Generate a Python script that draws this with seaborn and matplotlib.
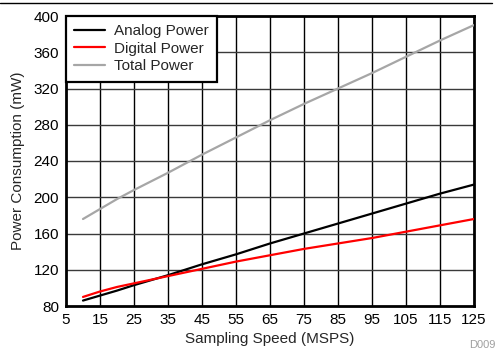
import matplotlib
matplotlib.use("Agg")
import matplotlib.pyplot as plt
import seaborn as sns
import pandas as pd
from matplotlib.lines import Line2D

speed = [10, 15, 20, 25, 35, 45, 55, 65, 75, 85, 95, 105, 115, 125]
analog = [86, 91.5, 97, 103, 114, 126, 137, 149, 160, 171, 182, 193, 204, 214]
digital = [90, 96, 101, 105, 113, 121, 129, 136, 143, 149, 155, 162, 169, 176]
total = [176, 187, 198, 208, 227, 247, 266, 285, 303, 320, 337, 355, 373, 390]
series_names = ["Analog Power", "Digital Power", "Total Power"]
colors = ["#000000", "#ff0000", "#a6a6a6"]
xticks = list(range(5, 126, 10))
yticks = list(range(80, 401, 40))

sns.set_style("white")
plt.rcParams["font.family"] = ["Liberation Sans", "DejaVu Sans"]

df = pd.DataFrame({
    "speed": speed * 3,
    "power": analog + digital + total,
    "series": [series_names[0]] * len(speed) + [series_names[1]] * len(speed) + [series_names[2]] * len(speed),
})

fs = 11
fig = plt.figure(figsize=(4.97, 3.53), dpi=100)
ax = fig.add_axes([66 / 497, 1 - 306 / 353, (474 - 66) / 497, (306 - 16) / 353])

sns.lineplot(data=df, x="speed", y="power", hue="series", palette=dict(zip(series_names, colors)),
             linewidth=1.6, ax=ax, legend=False, zorder=3)

ax.set_xlim(5, 125)
ax.set_ylim(80, 400)
ax.set_xticks(xticks)
ax.set_yticks(yticks)
ax.tick_params(axis="both", labelsize=fs, length=0, pad=5, colors="black")
for x in xticks[1:-1]:
    ax.axvline(x, color="black", lw=1.0, zorder=1)
for y in yticks[1:-1]:
    ax.axhline(y, color="#3a3a3a", lw=1.0, zorder=1)
for s in ax.spines.values():
    s.set_linewidth(2)
    s.set_color("black")
ax.set_xlabel("Sampling Speed (MSPS)", fontsize=fs, labelpad=4)
ax.set_ylabel("Power Consumption (mW)", fontsize=fs, labelpad=6)

handles = [Line2D([0], [0], color=c, lw=1.6) for c in colors]
leg = ax.legend(handles, series_names, loc="upper left", bbox_to_anchor=(0, 1), borderaxespad=0,
                fontsize=fs, frameon=True, fancybox=False, handlelength=2.0, handletextpad=0.6,
                borderpad=0.55, labelspacing=0.22)
leg.get_frame().set_edgecolor("black")
leg.get_frame().set_linewidth(1.6)
leg.get_frame().set_alpha(1)
leg.set_zorder(5)

fig.add_artist(Line2D([0, 492 / 497], [1 - 3 / 353, 1 - 3 / 353], color="black", lw=1.0))
fig.text(496 / 497, 1 - 350 / 353, "D009", fontsize=8, color="#a0a0a0", ha="right", va="bottom")

fig.savefig("out.png", dpi=100)
